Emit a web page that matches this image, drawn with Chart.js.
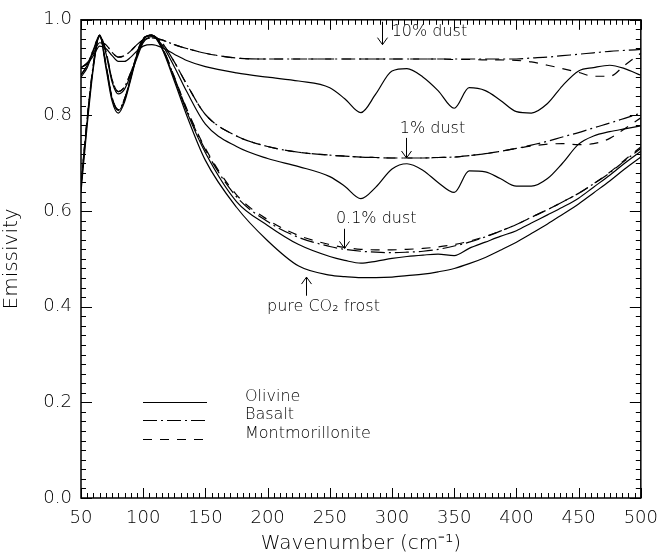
<!DOCTYPE html>
<html>
<head>
<meta charset="utf-8">
<script src="https://cdn.jsdelivr.net/npm/chart.js@4"></script>
<style>
   html, body { margin: 0; padding: 0; background: #fff; }
   #wrap { width: 668px; height: 556px; }
</style>
</head>
<body>
<div id="wrap"><canvas id="chart" width="668" height="556"></canvas></div>
<script>
const wavenumber = [50, 55, 60, 65, 70, 75, 80, 85, 90, 95,
   100, 107, 115, 125, 135, 150, 175, 200, 225, 250,
   262, 275, 287, 300, 312, 325, 337, 350, 362, 375,
   387, 400, 412, 425, 437, 450, 462, 475, 487, 500];

const olivine10 = [0.900, 0.908, 0.925, 0.945, 0.940, 0.925, 0.913, 0.913, 0.922, 0.935,
   0.945, 0.948, 0.942, 0.928, 0.915, 0.902, 0.889, 0.880, 0.872, 0.858,
   0.835, 0.806, 0.845, 0.893, 0.898, 0.880, 0.852, 0.815, 0.858, 0.852,
   0.832, 0.808, 0.805, 0.825, 0.862, 0.893, 0.900, 0.905, 0.898, 0.884];
const basalt10 = [0.900, 0.910, 0.930, 0.952, 0.948, 0.932, 0.922, 0.925, 0.935, 0.948,
   0.958, 0.962, 0.958, 0.948, 0.940, 0.930, 0.920, 0.918, 0.918, 0.918,
   0.918, 0.918, 0.918, 0.918, 0.918, 0.918, 0.918, 0.918, 0.918, 0.918,
   0.918, 0.918, 0.920, 0.922, 0.925, 0.928, 0.931, 0.934, 0.936, 0.938];
const montmor10 = [0.900, 0.910, 0.930, 0.952, 0.948, 0.932, 0.922, 0.925, 0.935, 0.948,
   0.958, 0.962, 0.958, 0.948, 0.940, 0.930, 0.920, 0.918, 0.918, 0.918,
   0.918, 0.918, 0.918, 0.918, 0.918, 0.918, 0.918, 0.917, 0.917, 0.916,
   0.916, 0.915, 0.912, 0.905, 0.898, 0.890, 0.882, 0.882, 0.905, 0.930];

const olivine1 = [0.880, 0.900, 0.935, 0.965, 0.930, 0.870, 0.845, 0.855, 0.885, 0.920,
   0.952, 0.965, 0.948, 0.902, 0.850, 0.782, 0.735, 0.710, 0.693, 0.672,
   0.652, 0.626, 0.650, 0.688, 0.699, 0.685, 0.660, 0.639, 0.684, 0.682,
   0.668, 0.652, 0.652, 0.668, 0.700, 0.740, 0.757, 0.766, 0.772, 0.778];
const basalt1 = [0.885, 0.905, 0.938, 0.967, 0.935, 0.875, 0.850, 0.860, 0.890, 0.925,
   0.955, 0.967, 0.952, 0.912, 0.865, 0.802, 0.757, 0.735, 0.723, 0.717,
   0.715, 0.713, 0.712, 0.711, 0.711, 0.711, 0.712, 0.713, 0.716, 0.720,
   0.725, 0.731, 0.738, 0.746, 0.755, 0.764, 0.774, 0.784, 0.794, 0.805];
const montmor1 = [0.885, 0.905, 0.938, 0.967, 0.935, 0.875, 0.850, 0.860, 0.890, 0.925,
   0.955, 0.967, 0.952, 0.912, 0.865, 0.802, 0.757, 0.735, 0.723, 0.717,
   0.715, 0.713, 0.712, 0.711, 0.711, 0.711, 0.712, 0.713, 0.716, 0.720,
   0.725, 0.731, 0.736, 0.740, 0.741, 0.739, 0.741, 0.752, 0.772, 0.795];

const olivine01 = [0.650, 0.790, 0.905, 0.968, 0.905, 0.835, 0.810, 0.832, 0.878, 0.928,
   0.960, 0.968, 0.942, 0.877, 0.808, 0.722, 0.620, 0.570, 0.530, 0.505,
   0.497, 0.491, 0.495, 0.501, 0.505, 0.508, 0.510, 0.507, 0.522, 0.535,
   0.547, 0.559, 0.575, 0.592, 0.608, 0.627, 0.650, 0.675, 0.700, 0.725];
const basalt01 = [0.655, 0.795, 0.908, 0.968, 0.908, 0.838, 0.812, 0.835, 0.880, 0.930,
   0.961, 0.968, 0.944, 0.880, 0.812, 0.728, 0.630, 0.578, 0.545, 0.526,
   0.520, 0.516, 0.514, 0.513, 0.514, 0.516, 0.520, 0.527, 0.535, 0.546,
   0.558, 0.572, 0.587, 0.603, 0.619, 0.637, 0.657, 0.680, 0.705, 0.731];
const montmor01 = [0.655, 0.795, 0.908, 0.968, 0.908, 0.838, 0.812, 0.835, 0.880, 0.930,
   0.961, 0.968, 0.944, 0.881, 0.814, 0.731, 0.634, 0.582, 0.549, 0.530,
   0.524, 0.520, 0.519, 0.519, 0.520, 0.522, 0.525, 0.530, 0.537, 0.547,
   0.558, 0.572, 0.587, 0.603, 0.619, 0.637, 0.657, 0.681, 0.707, 0.734];

const pureCO2 = [0.640, 0.780, 0.900, 0.968, 0.900, 0.830, 0.805, 0.828, 0.875, 0.925,
   0.958, 0.968, 0.940, 0.872, 0.800, 0.706, 0.608, 0.538, 0.485, 0.466,
   0.463, 0.461, 0.461, 0.462, 0.465, 0.468, 0.473, 0.480, 0.490, 0.503,
   0.518, 0.535, 0.553, 0.573, 0.593, 0.615, 0.638, 0.663, 0.688, 0.713];

const xTicks = [50, 100, 150, 200, 250, 300, 350, 400, 450, 500];
const yTicks = [0.0, 0.2, 0.4, 0.6, 0.8, 1.0];

const legendLabels = ["Olivine", "Basalt", "Montmorillonite"];
const dashes = { solid: [], dashdot: [14, 4, 2, 4], dashed: [9, 8] };

// label text, label anchor (x, y), arrow x, arrow from y, arrow to y
const notes = [
   { text: "10% dust", x: 299.7, y: 0.975, ax: 291.8, y0: 0.996, y1: 0.948 },
   { text: "1% dust", x: 306.3, y: 0.771, ax: 311.6, y0: 0.753, y1: 0.711 },
   { text: "0.1% dust", x: 254.9, y: 0.584, ax: 261.4, y0: 0.563, y1: 0.522 },
   { text: "pure CO\u2082 frost", x: 199.5, y: 0.400, ax: 231.1, y0: 0.423, y1: 0.462 },
];

const FONT = "'DejaVu Sans', sans-serif";
const WEIGHT = "200";

function series(label, values, dash) {
   return {
      label: label,
      data: wavenumber.map((w, i) => ({ x: w, y: values[i] })),
      borderColor: "#000",
      borderWidth: 1.2,
      borderDash: dash,
      pointRadius: 0,
      fill: false,
      cubicInterpolationMode: "monotone",
   };
}

const frame = {
   id: "frame",
   afterDraw(chart) {
      const ctx = chart.ctx;
      const a = chart.chartArea;
      const xs = chart.scales.x;
      const ys = chart.scales.y;
      ctx.save();
      ctx.strokeStyle = "#000";
      ctx.lineWidth = 1.5;
      ctx.strokeRect(a.left, a.top, a.right - a.left, a.bottom - a.top);

      ctx.lineWidth = 1;
      ctx.beginPath();
      for (let v = 50; v <= 500; v += 5) {
         const px = Math.round(xs.getPixelForValue(v)) + 0.5;
         const len = v % 50 === 0 ? 10 : 5;
         ctx.moveTo(px, a.bottom); ctx.lineTo(px, a.bottom - len);
         ctx.moveTo(px, a.top); ctx.lineTo(px, a.top + len);
      }
      for (let k = 0; k <= 50; k++) {
         const py = Math.round(ys.getPixelForValue(k * 0.02)) + 0.5;
         const len = k % 10 === 0 ? 11 : 5;
         ctx.moveTo(a.left, py); ctx.lineTo(a.left + len, py);
         ctx.moveTo(a.right, py); ctx.lineTo(a.right - len, py);
      }
      ctx.stroke();

      // annotations
      ctx.font = WEIGHT + " 16px " + FONT;
      ctx.fillStyle = "#000";
      ctx.textBaseline = "middle";
      ctx.textAlign = "left";
      for (const n of notes) {
         ctx.fillText(n.text, xs.getPixelForValue(n.x), ys.getPixelForValue(n.y));
         const ax = Math.round(xs.getPixelForValue(n.ax)) + 0.5;
         const p0 = ys.getPixelForValue(n.y0);
         const p1 = ys.getPixelForValue(n.y1);
         const dir = p1 > p0 ? -1 : 1;
         ctx.beginPath();
         ctx.moveTo(ax, p0); ctx.lineTo(ax, p1);
         ctx.moveTo(ax - 5, p1 + dir * 7); ctx.lineTo(ax, p1); ctx.lineTo(ax + 5, p1 + dir * 7);
         ctx.stroke();
      }

      // legend
      const styles = [dashes.solid, dashes.dashdot, dashes.dashed];
      const rows = [402, 420, 439];
      for (let i = 0; i < 3; i++) {
         ctx.setLineDash(styles[i]);
         ctx.beginPath();
         ctx.moveTo(143, rows[i] + 0.5);
         ctx.lineTo(207, rows[i] + 0.5);
         ctx.stroke();
         ctx.setLineDash([]);
         ctx.fillText(legendLabels[i], 245, rows[i] - 5);
      }
      ctx.restore();
   },
};

new Chart(document.getElementById("chart").getContext("2d"), {
   type: "line",
   data: {
      datasets: [
         series("Olivine 10%", olivine10, dashes.solid),
         series("Basalt 10%", basalt10, dashes.dashdot),
         series("Montmorillonite 10%", montmor10, dashes.dashed),
         series("Olivine 1%", olivine1, dashes.solid),
         series("Basalt 1%", basalt1, dashes.dashdot),
         series("Montmorillonite 1%", montmor1, dashes.dashed),
         series("Olivine 0.1%", olivine01, dashes.solid),
         series("Basalt 0.1%", basalt01, dashes.dashdot),
         series("Montmorillonite 0.1%", montmor01, dashes.dashed),
         series("pure CO2 frost", pureCO2, dashes.solid),
      ],
   },
   options: {
      responsive: false,
      animation: false,
      layout: { padding: { top: 13, right: 18, left: 0, bottom: 0 } },
      plugins: { legend: { display: false }, tooltip: { enabled: false } },
      scales: {
         x: {
            type: "linear",
            min: 50,
            max: 500,
            afterFit(scale) { scale.height = 58; },
            afterBuildTicks(scale) { scale.ticks = xTicks.map(v => ({ value: v })); },
            grid: { display: false, drawTicks: false },
            border: { display: false },
            ticks: { color: "#000", padding: 10, font: { family: FONT, size: 18, weight: WEIGHT } },
            title: {
               display: true,
               text: "Wavenumber (cm\u207B\u00B9)",
               color: "#000",
               padding: 0,
               font: { family: FONT, size: 20, weight: WEIGHT },
            },
         },
         y: {
            min: 0,
            max: 1,
            afterFit(scale) { scale.width = 81; },
            afterBuildTicks(scale) { scale.ticks = yTicks.map(v => ({ value: v })); },
            grid: { display: false, drawTicks: false },
            border: { display: false },
            ticks: {
               color: "#000",
               padding: 9,
               font: { family: FONT, size: 18, weight: WEIGHT },
               callback: v => v.toFixed(1),
            },
            title: {
               display: true,
               text: "Emissivity",
               color: "#000",
               padding: 0,
               font: { family: FONT, size: 20, weight: WEIGHT },
            },
         },
      },
   },
   plugins: [frame],
});
</script>
</body>
</html>
